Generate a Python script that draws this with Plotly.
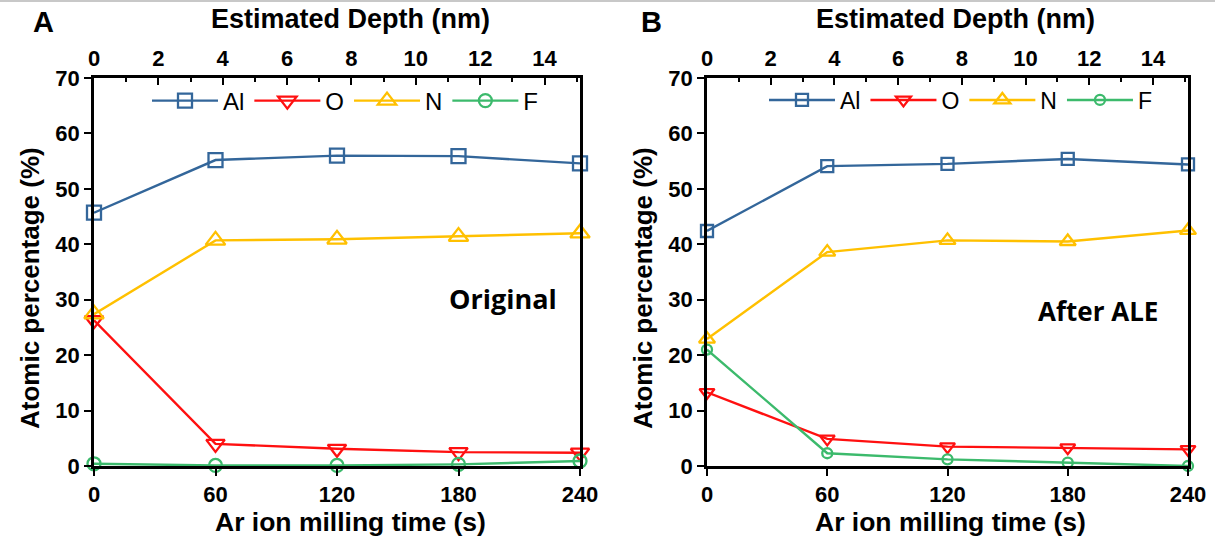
import plotly.graph_objects as go

# ---------------- data ----------------
time_s = [0, 60, 120, 180, 240]
depth_nm = [0, 3.78, 7.55, 11.33, 15.1]
time_ticks = [0, 60, 120, 180, 240]
depth_ticks = [0, 2, 4, 6, 8, 10, 12, 14]

orig_Al = [45.7, 55.2, 56.0, 55.9, 54.6]
orig_O = [26.3, 4.0, 3.1, 2.5, 2.4]
orig_N = [27.4, 40.7, 40.9, 41.4, 42.0]
orig_F = [0.4, 0.1, 0.1, 0.3, 0.9]

ale_Al = [42.4, 54.1, 54.5, 55.4, 54.4]
ale_O = [13.3, 4.9, 3.5, 3.3, 3.0]
ale_N = [22.9, 38.6, 40.7, 40.5, 42.5]
ale_F = [21.0, 2.3, 1.2, 0.6, 0.0]

names = ["Al", "O", "N", "F"]
colors = ["#33669a", "#ff1010", "#ffc000", "#3cba6c"]
symbols = ["square-open", "triangle-down-open", "triangle-up-open", "circle-open"]

FONT = "Liberation Sans, Arial, sans-serif"
W, H = 1215, 544

def px(x):
    return x / W

def py(y):
    return 1 - y / H

fig = go.Figure()

panels = [
    dict(data=[orig_Al, orig_O, orig_N, orig_F], xa="x", ya="y", xt="x3", legend="legend",
         sizes=[14, 16, 17, 13]),
    dict(data=[ale_Al, ale_O, ale_N, ale_F], xa="x2", ya="y2", xt="x4", legend="legend2",
         sizes=[12, 13, 14, 10]),
]

for p in panels:
    for name, vals, col, sym, sz in zip(names, p["data"], colors, symbols, p["sizes"]):
        fig.add_trace(go.Scatter(
            x=time_s, y=vals, name=name, mode="lines+markers",
            xaxis=p["xa"], yaxis=p["ya"], legend=p["legend"],
            line=dict(color=col, width=2.4),
            marker=dict(symbol=sym, size=sz, color=col, line=dict(width=2.3, color=col)),
            cliponaxis=False,
        ))
    # invisible trace binding the depth axis
    fig.add_trace(go.Scatter(
        x=depth_nm, y=p["data"][0], xaxis=p["xt"], yaxis=p["ya"], mode="markers",
        marker=dict(opacity=0), showlegend=False, hoverinfo="skip",
    ))

ydom = [py(466), py(78)]
xdomA = [px(94), px(580)]
xdomB = [px(707), px(1188)]

tickfont = dict(family=FONT, size=22, color="black", weight="bold")

def bottom_axis(dom, anchor):
    return dict(domain=dom, anchor=anchor, range=[0, 240], tickvals=time_ticks,
                showline=True, linecolor="black", linewidth=2.5, ticks="outside",
                ticklen=7, tickwidth=2, tickcolor="black", showgrid=False, zeroline=False,
                tickfont=tickfont, mirror=False)

def top_axis(overlay, anchor):
    return dict(overlaying=overlay, anchor=anchor, side="top", range=[0, 15.1],
                tickvals=depth_ticks, showline=True, linecolor="black", linewidth=2.5,
                ticks="inside", ticklen=7, tickwidth=2, tickcolor="black",
                minor=dict(dtick=1, ticks="inside", ticklen=4, tickwidth=2, tickcolor="black"),
                showgrid=False, zeroline=False, tickfont=tickfont)

def y_axis(anchor):
    return dict(domain=ydom, anchor=anchor, range=[0, 70], dtick=10, showline=True,
                linecolor="black", linewidth=2.5, mirror=True, ticks="outside", ticklen=7,
                tickwidth=2, tickcolor="black", showgrid=False, zeroline=False,
                tickfont=tickfont)

def legend_cfg(x, y, size):
    return dict(orientation="h", x=px(x), y=py(y), xanchor="left", yanchor="middle",
                font=dict(family=FONT, size=size, color="black"), bgcolor="rgba(0,0,0,0)",
                itemwidth=66, tracegroupgap=0)

def ann(text, x, y, size, family=FONT, angle=0):
    return dict(text=text, xref="paper", yref="paper", x=px(x), y=py(y), showarrow=False,
                textangle=angle, xanchor="center", yanchor="middle",
                font=dict(family=family, size=size, color="black", weight="bold"))

fig.update_layout(
    width=W, height=H, margin=dict(l=0, r=0, t=0, b=0, autoexpand=False),
    paper_bgcolor="white", plot_bgcolor="white", showlegend=True,
    xaxis=bottom_axis(xdomA, "y"),
    xaxis2=bottom_axis(xdomB, "y2"),
    xaxis3=top_axis("x", "y"),
    xaxis4=top_axis("x2", "y2"),
    yaxis=y_axis("x"),
    yaxis2=y_axis("x2"),
    legend=legend_cfg(147, 101, 24),
    legend2=legend_cfg(764, 100, 23),
    annotations=[
        ann("Estimated Depth (nm)", 350, 19, 27),
        ann("Estimated Depth (nm)", 955, 19, 27),
        ann("Ar ion milling time (s)", 350, 522, 26.5),
        ann("Ar ion milling time (s)", 950, 522, 26.5),
        ann("Atomic percentage (%)", 30, 288, 26, angle=-90),
        ann("Atomic percentage (%)", 643, 288, 26, angle=-90),
        ann("Original", 503, 298, 27, family="Open Sans, Lato"),
        ann("After ALE", 1098, 311, 26, family="Open Sans, Lato"),
        ann("A", 43, 22, 29),
        ann("B", 651, 22, 29),
    ],
    shapes=[dict(type="line", xref="paper", yref="paper", x0=0, x1=1, y0=py(1), y1=py(1),
                 line=dict(color="#c8c8c8", width=2))],
)

fig.write_html("out.html", config={"displayModeBar": False},
               post_script="document.body.style.margin='0';")
